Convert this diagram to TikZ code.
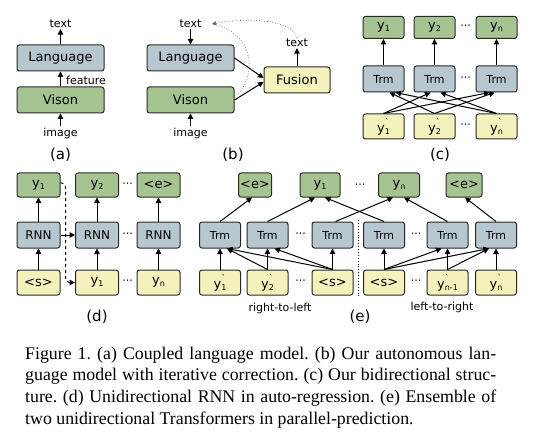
\documentclass[tikz,border=0pt]{standalone}
\usepackage{fontspec}
\setmainfont{Liberation Serif}
\newfontfamily\dfont{DejaVu Sans}
\usetikzlibrary{arrows.meta}
\frenchspacing
\definecolor{bgreen}{RGB}{166,196,146}
\definecolor{bblue}{RGB}{182,199,208}
\definecolor{byellow}{RGB}{244,242,188}
\definecolor{bborder}{RGB}{40,40,40}
\newcommand\ysb[1]{y\raisebox{-0.3ex}{\fontsize{8}{9}\selectfont #1}}
\newcommand\ypr[1]{y\rlap{\raisebox{1.0ex}{\fontsize{9}{9}\selectfont `}}\raisebox{-0.3ex}{\fontsize{8}{9}\selectfont #1}}
\tikzset{
  box/.style={draw=bborder, line width=1pt, rounded corners=2.5pt, inner sep=0pt},
  gbox/.style={box, fill=bgreen},
  bbox/.style={box, fill=bblue},
  ybox/.style={box, fill=byellow},
  bigtxt/.style={font=\dfont\fontsize{13}{15}\selectfont},
  ytxt/.style={font=\dfont\fontsize{13}{15}\selectfont},
  trmtxt/.style={font=\dfont\fontsize{11}{13}\selectfont},
  abox/.style={minimum width=87pt, minimum height=26pt, bigtxt},
  cbox/.style={minimum width=41pt},
  lbl/.style={font=\dfont\fontsize{11}{13}\selectfont, inner sep=1pt},
  sub/.style={font=\dfont\fontsize{15}{17}\selectfont, inner sep=1pt},
  dotsn/.style={font=\dfont\fontsize{11}{13}\selectfont, inner sep=0pt},
  arr/.style={-{Triangle[length=5.5pt,width=5.5pt]}, line width=1pt, draw=black},
  dotline/.style={dotted, line width=0.7pt, draw=black!60},
  capt/.style={font=\fontsize{17.8}{20}\selectfont, inner sep=0pt, anchor=base west}
}
\begin{document}
\begin{tikzpicture}[x=1pt,y=-1pt]
\useasboundingbox[fill=white] (0,0) rectangle (541,433);

% ---------- (a)
\node[bbox, abox] (aL) at (60.5,58) {Language};
\node[gbox, abox] (aV) at (60.5,100) {Vison};
\node[lbl] (aT) at (60.5,24) {text};
\node[lbl] (aI) at (60.5,133) {image};
\node[lbl, anchor=west] (aF) at (65,80) {feature};
\node[sub] (aC) at (60.5,155) {(a)};
\draw[arr] (aL) -- (aT);
\draw[arr] (aV) -- (aL);
\draw[arr] (aI) -- (aV);

% ---------- (b)
\node[bbox, abox] (bL) at (190.5,58) {Language};
\node[gbox, abox] (bV) at (190.5,100) {Vison};
\node[ybox, minimum width=66pt, minimum height=26pt, bigtxt] (bF) at (297,80) {Fusion};
\node[lbl] (bT) at (190.5,24) {text};
\node[lbl] (bT2) at (297,43) {text};
\node[lbl] (bI) at (190.5,133) {image};
\node[sub] (bC) at (233,155) {(b)};
\coordinate (bTe) at (212,24);
\draw[arr] (bT) -- (bL);
\draw[arr] (bI) -- (bV);
\draw[arr] (bF) -- (bT2);
\draw[arr] (bL.east) -- ([yshift=2pt]bF.west);
\draw[arr] (bV.east) -- ([yshift=-2pt]bF.west);
\draw[dotline, -{Triangle[length=4pt,width=4pt]}] (bT2.north) .. controls (292,20) and (250,17) .. (bTe);
\draw[dotline] ([yshift=3pt]bV.east) .. controls (257,80) and (257,33) .. (bTe);

% ---------- (c)
\foreach \n/\x/\t in {1/383.5/\ysb{1}, 2/434.5/\ysb{2}, 3/496.5/\ysb{n}}{
  \node[gbox, cbox, minimum height=22pt, ytxt] (cy\n) at (\x,27.5) {\t};
  \node[bbox, cbox, minimum height=26pt, trmtxt] (ct\n) at (\x,79) {Trm};
  \draw[arr] (ct\n) -- (cy\n);
}
\node[ybox, cbox, minimum height=25pt, ytxt] (cp1) at (383.5,126.5) {\ypr{1}};
\node[ybox, cbox, minimum height=25pt, ytxt] (cp2) at (434.5,126.5) {\ypr{2}};
\node[ybox, cbox, minimum height=25pt, ytxt] (cp3) at (496.5,126.5) {\ypr{n}};
\node[dotsn] (cd1) at (465.5,27) {···};
\node[dotsn] (cd2) at (465.5,79) {···};
\node[dotsn] (cd3) at (465.5,126) {···};
\draw[arr] (cp1.north) -- ([xshift=-4pt]ct2.south);
\draw[arr] (cp1.north) -- ([xshift=-7pt]ct3.south);
\draw[arr] (cp2.north) -- ([xshift=6pt]ct1.south);
\draw[arr] (cp2.north) -- ([xshift=-2pt]ct3.south);
\draw[arr] (cp3.north) -- ([xshift=12pt]ct1.south);
\draw[arr] (cp3.north) -- ([xshift=6pt]ct2.south);
\node[sub] (cC) at (440,155) {(c)};

% ---------- (d)
\node[gbox, minimum width=43pt, minimum height=24pt, ytxt] (dy1) at (38.5,185) {\ysb{1}};
\node[gbox, minimum width=43pt, minimum height=24pt, ytxt] (dy2) at (97,185) {\ysb{2}};
\node[gbox, minimum width=43pt, minimum height=24pt, ytxt] (dy3) at (158.5,185) {<e>};
\foreach \n/\x in {1/38.5, 2/97, 3/158.5}{
  \node[bbox, minimum width=43pt, minimum height=26pt, font=\dfont\fontsize{12}{14}\selectfont] (dr\n) at (\x,235) {RNN};
  \draw[arr] (dr\n) -- (dy\n);
}
\node[ybox, minimum width=43pt, minimum height=25pt, ytxt] (db1) at (38.5,282.5) {<s>};
\node[ybox, minimum width=43pt, minimum height=25pt, ytxt] (db2) at (97,282.5) {\ysb{1}};
\node[ybox, minimum width=43pt, minimum height=25pt, ytxt] (db3) at (158.5,282.5) {\ysb{n}};
\foreach \n in {1,2,3}{ \draw[arr] (db\n) -- (dr\n); }
\draw[arr] (dr1) -- (dr2);
\draw[arr, dashed, rounded corners=4pt] ([yshift=2pt]dy1.east) -- ++(5,0) |- (db2.west);
\node[dotsn] (dd1) at (127.5,185) {···};
\node[dotsn] (dd2) at (127.5,235) {···};
\node[dotsn] (dd3) at (127.5,282) {···};
\node[sub] (dC) at (97,317) {(d)};

% ---------- (e)
\node[gbox, minimum width=33pt, minimum height=24pt, ytxt] (eo1) at (255,185) {<e>};
\node[gbox, minimum width=40pt, minimum height=24pt, ytxt] (eo2) at (320,185) {\ysb{1}};
\node[gbox, minimum width=41pt, minimum height=24pt, ytxt] (eo3) at (399,185) {\ysb{n}};
\node[gbox, minimum width=36pt, minimum height=24pt, ytxt] (eo4) at (464,185) {<e>};
\foreach \n/\x in {1/220, 2/267.5, 3/332.5, 4/384, 5/447.5, 6/496}{
  \node[bbox, cbox, minimum height=26pt, trmtxt] (et\n) at (\x,235) {Trm};
}
\node[ybox, cbox, minimum height=25pt, ytxt] (eb1) at (220,282.5) {\ypr{1}};
\node[ybox, cbox, minimum height=25pt, ytxt] (eb2) at (267.5,282.5) {\ypr{2}};
\node[ybox, cbox, minimum height=25pt, ytxt] (eb3) at (332.5,282.5) {<s>};
\node[ybox, cbox, minimum height=25pt, ytxt] (eb4) at (384,282.5) {<s>};
\node[ybox, cbox, minimum height=25pt, ytxt] (eb5) at (447.5,282.5) {\ypr{n-1}};
\node[ybox, cbox, minimum height=25pt, ytxt] (eb6) at (496,282.5) {\ypr{n}};
\node[dotsn] (ed1) at (360,186) {···};
\node[dotsn] (ed2) at (300.5,235) {···};
\node[dotsn] (ed3) at (416,235) {···};
\node[dotsn] (ed4) at (300.5,282) {···};
\node[dotsn] (ed5) at (416,282) {···};
% top connections
\draw[arr] (et1.north) -- ([xshift=-3pt]eo1.south);
\draw[arr] (et2.north) -- ([xshift=-5pt]eo2.south);
\draw[arr] (et4.north) -- ([xshift=5pt]eo2.south);
\draw[arr] ([xshift=3pt]et3.north) -- ([xshift=-6pt]eo3.south);
\draw[arr] (et5.north) -- ([xshift=5pt]eo3.south);
\draw[arr] (et6.north) -- ([xshift=1pt]eo4.south);
% bottom connections left
\foreach \n in {1,2,3,4,5,6}{ \draw[arr] (eb\n) -- (et\n); }
\draw[arr] (eb2.north) -- ([xshift=7pt]et1.south);
\draw[arr] (eb3.north) -- ([xshift=7pt]et1.south);
\draw[arr] (eb3.north) -- ([xshift=7pt]et2.south);
% bottom connections right
\draw[arr] (eb4.north) -- ([xshift=-6pt]et5.south);
\draw[arr] (eb4.north) -- ([xshift=-7pt]et6.south);
\draw[arr] (eb5.north) -- ([xshift=-7pt]et6.south);
\coordinate (es1) at (358.5,220);
\coordinate (es2) at (358.5,297);
\draw[dotted, line width=0.9pt] (es1) -- (es2);
\node[lbl] (eL) at (280,308) {right-to-left};
\node[lbl] (eR) at (442,307) {left-to-right};
\node[sub] (eC) at (360,317) {(e)};

% ---------- caption
\node[capt] (c1) at (25,359) {\hbox to 471pt{Figure 1. (a) Coupled language model. (b) Our autonomous lan-}};
\node[capt] (c2) at (25,380.7) {\hbox to 471pt{guage model with iterative correction. (c) Our bidirectional struc-}};
\node[capt] (c3) at (25,402.4) {\hbox to 471pt{ture. (d) Unidirectional RNN in auto-regression. (e) Ensemble of}};
\node[capt] (c4) at (25,424) {two unidirectional Transformers in parallel-prediction.};
\end{tikzpicture}
\end{document}
